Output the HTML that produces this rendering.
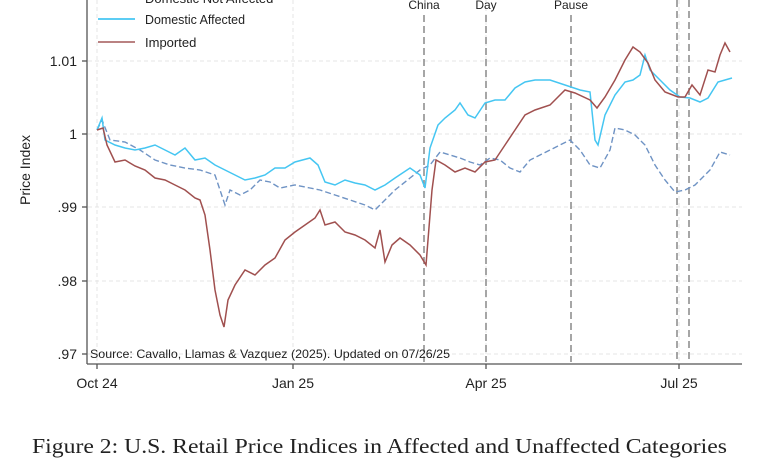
<!DOCTYPE html>
<html><head><style>
body{margin:0;background:#fff;width:780px;height:470px;overflow:hidden}
svg text{font-family:"Liberation Sans",sans-serif}
</style></head><body>
<svg width="780" height="470" xmlns="http://www.w3.org/2000/svg">
<g stroke="#e4e4e4" stroke-width="1" stroke-dasharray="4,3" fill="none">
<line x1="88" y1="61" x2="742" y2="61"/><line x1="88" y1="134" x2="742" y2="134"/>
<line x1="88" y1="207" x2="742" y2="207"/><line x1="88" y1="281" x2="742" y2="281"/>
<line x1="88" y1="354" x2="742" y2="354"/>
<line x1="97" y1="0" x2="97" y2="362"/><line x1="293" y1="0" x2="293" y2="362"/>
<line x1="486" y1="0" x2="486" y2="362"/><line x1="679" y1="0" x2="679" y2="362"/>
</g>
<g stroke="#888" stroke-width="1.5" stroke-dasharray="7,4" fill="none">
<line x1="424" y1="15" x2="424" y2="362"/><line x1="486" y1="15" x2="486" y2="362"/>
<line x1="571" y1="15" x2="571" y2="362"/><line x1="677" y1="0" x2="677" y2="362"/>
<line x1="689" y1="0" x2="689" y2="362"/>
</g>
<g font-size="12" fill="#222" text-anchor="middle">
<text x="424" y="9">China</text><text x="486" y="9">Day</text><text x="571" y="9">Pause</text>
</g>
<polyline fill="none" stroke="#6f93c4" stroke-width="1.4" stroke-dasharray="6,3" points="97,130 102,120 110,140 125,142 140,150 155,160 170,165 185,168 200,170 215,175 225,205 230,190 240,195 250,190 260,180 270,182 280,188 295,185 310,188 320,190 335,195 350,200 365,205 375,210 385,200 395,190 410,178 420,170 430,165 440,152 450,155 460,158 470,162 480,165 490,158 500,160 510,168 520,172 530,160 540,155 550,150 560,145 570,140 580,150 590,165 600,168 610,150 615,128 625,130 635,135 645,145 655,165 665,180 675,192 685,190 695,185 710,170 720,152 730,155"/>
<polyline fill="none" stroke="#45c6f2" stroke-width="1.5" points="97,130 102,118 105,140 115,145 125,148 135,150 145,148 155,145 165,150 175,155 185,148 195,160 205,158 215,165 225,170 235,175 245,180 255,178 265,175 275,168 285,168 295,162 310,158 318,165 325,182 335,185 345,180 355,183 365,185 375,190 385,185 395,178 410,168 420,175 425,188 430,148 438,125 445,118 455,110 460,103 468,115 475,118 485,103 495,100 505,100 515,88 525,82 535,80 550,80 565,85 580,90 590,92 595,140 598,145 605,115 615,95 625,82 633,80 640,75 645,55 650,70 660,80 670,90 680,97 690,98 700,102 708,98 718,82 725,80 732,78"/>
<polyline fill="none" stroke="#a0504f" stroke-width="1.5" points="97,130 103,128 107,145 115,162 125,160 135,166 145,170 155,178 165,180 175,185 185,190 195,198 200,200 205,215 210,250 215,290 220,315 224,327 228,300 235,285 245,270 255,275 265,265 275,258 285,240 295,232 305,225 315,218 320,210 325,225 335,222 345,232 355,235 365,240 375,248 380,230 385,262 392,245 400,238 410,245 420,255 426,265 428,240 432,190 436,160 445,165 455,172 465,168 475,172 485,162 495,160 505,145 515,130 525,115 535,110 550,105 565,90 575,93 590,100 597,108 605,97 615,80 625,60 633,47 640,52 648,63 655,80 665,92 678,97 685,97 692,85 700,95 708,70 715,72 720,55 725,43 730,52"/>
<g stroke="#555" stroke-width="1.3">
<line x1="87" y1="0" x2="87" y2="364"/><line x1="87" y1="364" x2="742" y2="364"/>
<line x1="82" y1="61" x2="87" y2="61"/><line x1="82" y1="134" x2="87" y2="134"/><line x1="82" y1="207" x2="87" y2="207"/><line x1="82" y1="281" x2="87" y2="281"/><line x1="82" y1="354" x2="87" y2="354"/>
<line x1="97" y1="364" x2="97" y2="369"/><line x1="293" y1="364" x2="293" y2="369"/><line x1="486" y1="364" x2="486" y2="369"/><line x1="679" y1="364" x2="679" y2="369"/>
</g>
<g font-size="14" fill="#222" text-anchor="end">
<text x="77" y="66">1.01</text><text x="77" y="139">1</text><text x="77" y="212">.99</text><text x="77" y="286">.98</text><text x="77" y="359">.97</text>
</g>
<text x="30" y="170" font-size="14" fill="#222" text-anchor="middle" transform="rotate(-90 30 170)">Price Index</text>
<g font-size="14" fill="#222" text-anchor="middle">
<text x="97" y="388">Oct 24</text><text x="293" y="388">Jan 25</text><text x="486" y="388">Apr 25</text><text x="679" y="388">Jul 25</text>
</g>
<text x="90" y="358" font-size="12" fill="#222" textLength="360" lengthAdjust="spacingAndGlyphs">Source: Cavallo, Llamas &amp; Vazquez (2025). Updated on 07/26/25</text>
<line x1="98" y1="-1" x2="135" y2="-1" stroke="#6f93c4" stroke-width="1.5" stroke-dasharray="6,3"/>
<text x="145" y="3" font-size="13" fill="#222">Domestic Not Affected</text>
<line x1="98" y1="19" x2="135" y2="19" stroke="#45c6f2" stroke-width="1.8"/>
<text x="145" y="24" font-size="13" fill="#222" textLength="100" lengthAdjust="spacingAndGlyphs">Domestic Affected</text>
<line x1="98" y1="42" x2="135" y2="42" stroke="#b07070" stroke-width="1.8"/>
<text x="145" y="47" font-size="13" fill="#222">Imported</text>
<text x="32" y="453" font-size="21" fill="#222" textLength="695" lengthAdjust="spacingAndGlyphs" style="font-family:'Liberation Serif',serif">Figure 2: U.S. Retail Price Indices in Affected and Unaffected Categories</text>
</svg>
</body></html>
